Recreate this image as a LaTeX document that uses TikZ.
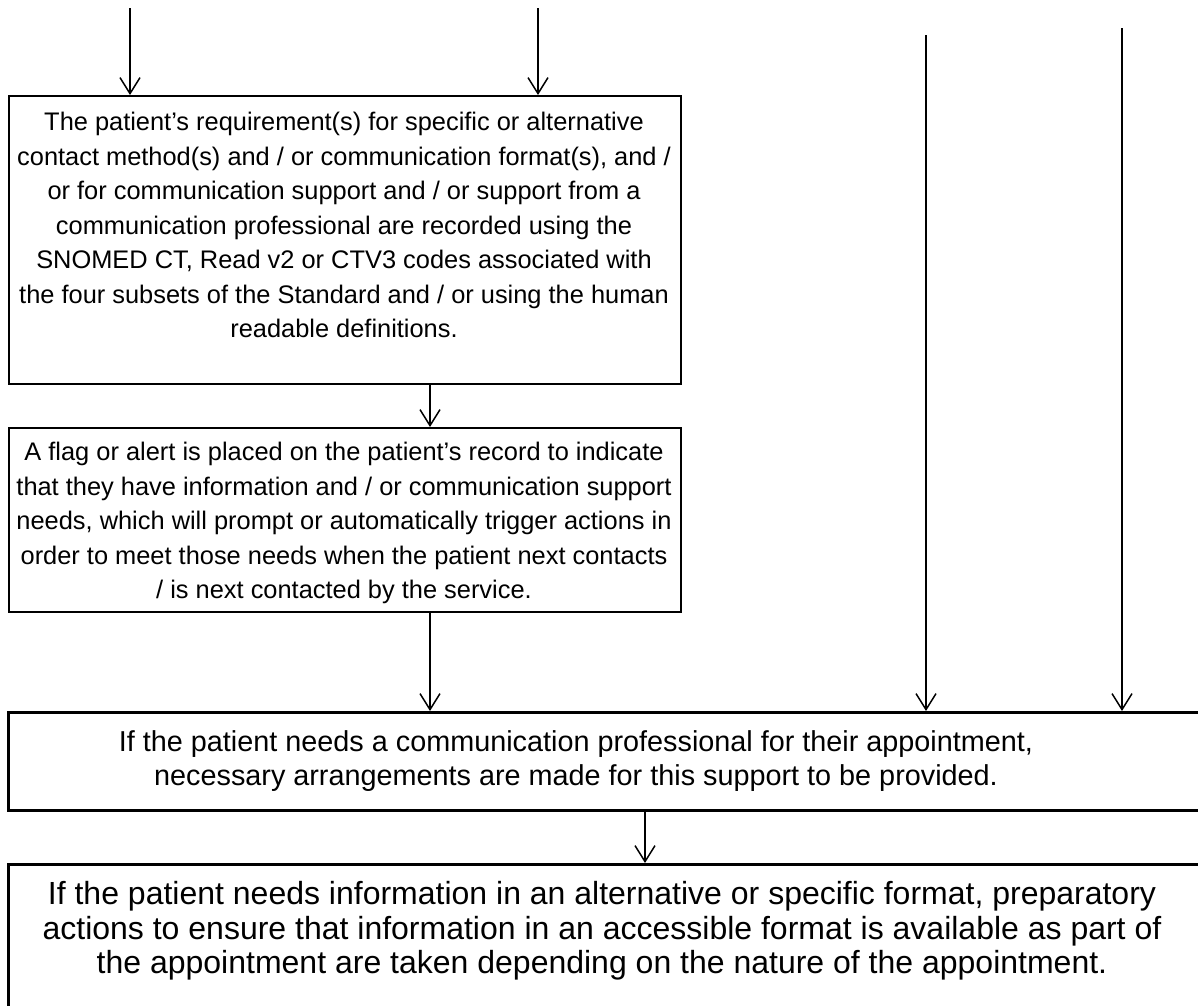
\documentclass[tikz,border=0pt]{standalone}
\usepackage{fontspec}
\setmainfont{Liberation Sans}
\usetikzlibrary{arrows.meta}
\tikzset{
  boxA/.style={draw, line width=2pt, inner sep=0pt, anchor=north west},
  boxB/.style={draw, line width=2.8pt, inner sep=0pt, anchor=north west},
  txtA/.style={align=center, inner sep=0pt, font=\fontsize{25.4}{34.5}\selectfont},
  txtB/.style={align=center, inner sep=0pt, font=\fontsize{28.8}{34.5}\selectfont},
  txtC/.style={align=center, inner sep=0pt, font=\fontsize{32}{34.5}\selectfont},
  flow/.style={line width=1.5pt, -{Straight Barb[length=16pt,width=20pt,line width=1.5pt]}}
}
\begin{document}
\begin{tikzpicture}[x=1pt,y=-1pt]
\useasboundingbox (0,0) rectangle (1198,1005);
\clip (0,0) rectangle (1198,1005);
% boxes
\node[boxA, minimum width=672pt, minimum height=288pt] (b1) at (8,95) {};
\node[boxA, minimum width=672pt, minimum height=184pt] (b2) at (8,427) {};
\node[boxB, minimum width=1240pt, minimum height=98pt] (b3) at (7,711) {};
\node[boxB, minimum width=1240pt, minimum height=200pt] (b4) at (7,863) {};
% texts
\node[txtA] (t1) at (344,225) {The patient’s requirement(s) for specific or alternative\\
contact method(s) and / or communication format(s), and /\\
or for communication support and / or support from a\\
communication professional are recorded using the\\
SNOMED CT, Read v2 or CTV3 codes associated with\\
the four subsets of the Standard and / or using the human\\
readable definitions.};
\node[txtA] (t2) at (344,523) {A flag or alert is placed on the patient’s record to indicate\\
that they have information and / or communication support\\
needs, which will prompt or automatically trigger actions in\\
order to meet those needs when the patient next contacts\\
/ is next contacted by the service.};
\node[txtB] (t3) at (576,761) {If the patient needs a communication professional for their appointment,\\
necessary arrangements are made for this support to be provided.};
\node[txtC] (t4) at (602,931) {If the patient needs information in an alternative or specific format, preparatory\\
actions to ensure that information in an accessible format is available as part of\\
the appointment are taken depending on the nature of the appointment.};
% free ends
\coordinate (s1) at (130,8);
\coordinate (s2) at (538,8);
\coordinate (s3) at (926,35);
\coordinate (s4) at (1122,28);
% connectors
\draw[flow] (s1) -- (s1 |- b1.north);
\draw[flow] (s2) -- (s2 |- b1.north);
\draw[flow] (s3) -- (s3 |- b3.north);
\draw[flow] (s4) -- (s4 |- b3.north);
\draw[flow] (b1.south -| 430,0) -- (b2.north -| 430,0);
\draw[flow] (b2.south -| 430,0) -- (b3.north -| 430,0);
\draw[flow] (b3.south -| 645,0) -- (b4.north -| 645,0);
\end{tikzpicture}
\end{document}
